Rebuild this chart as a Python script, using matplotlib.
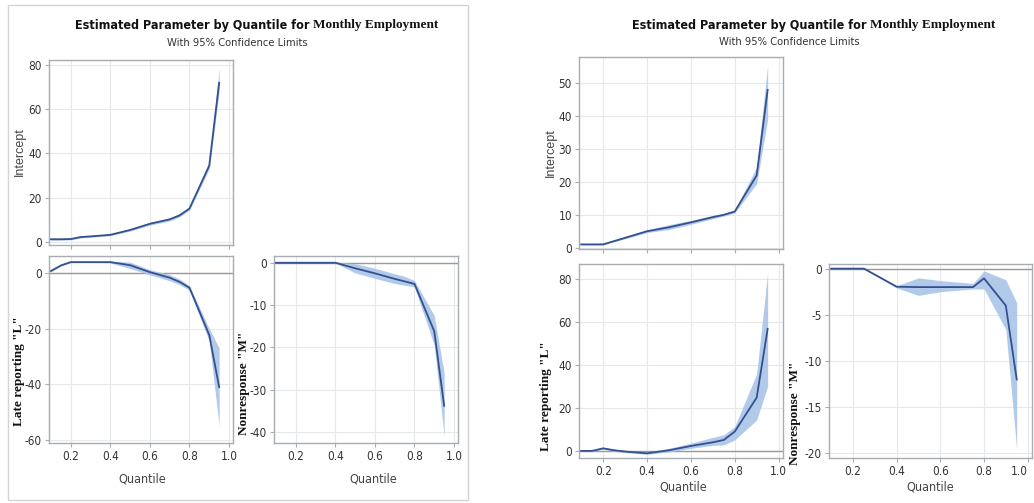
import matplotlib
matplotlib.use("Agg")
import os
import matplotlib.pyplot as plt
from matplotlib import font_manager
from matplotlib.font_manager import FontProperties
from matplotlib.patches import Rectangle

# ---------------- data ----------------
quantiles = [0.1, 0.15, 0.2, 0.25, 0.3, 0.4, 0.5, 0.6, 0.7, 0.75, 0.8, 0.9, 0.95]

# Left chart
a_int_est = [1.2, 1.2, 1.3, 2.2, 2.5, 3.2, 5.4, 8.2, 10.2, 12.0, 15.1, 34.5, 72.0]
a_int_lo  = [0.8, 0.8, 0.9, 1.8, 2.1, 2.8, 4.9, 7.6, 9.5, 11.3, 14.4, 33.0, 68.0]
a_int_hi  = [1.6, 1.6, 1.7, 2.6, 2.9, 3.6, 5.9, 8.8, 10.9, 12.8, 15.9, 36.5, 78.5]

a_late_est = [0.7, 2.7, 3.9, 3.9, 3.9, 3.9, 2.8, 0.3, -1.7, -3.2, -5.3, -22.3, -41.0]
a_late_lo  = [0.5, 2.5, 3.7, 3.7, 3.7, 3.6, 1.6, -0.7, -2.8, -4.2, -6.2, -24.5, -55.0]
a_late_hi  = [0.9, 2.9, 4.1, 4.1, 4.1, 4.2, 3.9, 1.2, -0.6, -2.2, -4.6, -20.0, -27.0]

a_non_est = [0.0, 0.0, 0.0, 0.0, 0.0, 0.0, -1.3, -2.5, -3.8, -4.4, -5.0, -16.2, -33.8]
a_non_lo  = [0.0, 0.0, 0.0, 0.0, 0.0, -0.05, -2.4, -3.7, -4.9, -5.3, -5.7, -19.5, -41.0]
a_non_hi  = [0.0, 0.0, 0.0, 0.0, 0.0, 0.05, -0.2, -1.3, -2.6, -3.2, -4.2, -12.5, -26.0]

# Right chart
b_int_est = [1.0, 1.0, 1.0, 2.0, 3.0, 5.0, 6.2, 7.7, 9.3, 10.0, 11.0, 22.0, 48.0]
b_int_lo  = [0.8, 0.8, 0.8, 1.8, 2.7, 4.6, 5.5, 7.1, 8.8, 9.6, 10.6, 19.5, 39.0]
b_int_hi  = [1.2, 1.2, 1.2, 2.2, 3.3, 5.4, 7.0, 8.3, 9.8, 10.4, 11.4, 24.5, 55.5]

b_late_est = [0.0, 0.0, 1.2, 0.3, -0.3, -1.1, 0.3, 2.3, 4.0, 5.1, 9.0, 24.8, 56.8]
b_late_lo  = [-0.3, -0.3, 0.8, -0.2, -0.8, -1.6, -0.5, 1.2, 2.6, 2.8, 5.1, 14.4, 30.0]
b_late_hi  = [0.3, 0.3, 1.6, 0.8, 0.3, -0.6, 1.2, 3.6, 6.3, 7.5, 11.3, 35.9, 83.0]

b_non_est = [0.0, 0.0, 0.0, 0.0, -0.65, -1.96, -2.0, -2.0, -2.0, -2.0, -1.05, -4.0, -12.0]
b_non_lo  = [0.0, 0.0, 0.0, 0.0, -0.7, -2.1, -2.9, -2.5, -2.3, -2.2, -2.2, -6.6, -19.6]
b_non_hi  = [0.0, 0.0, 0.0, 0.0, -0.6, -1.85, -1.0, -1.3, -1.5, -1.6, -0.25, -1.2, -3.7]

x_ticks = [0.2, 0.4, 0.6, 0.8, 1.0]
x_tick_labels = ["0.2", "0.4", "0.6", "0.8", "1.0"]

title_sans = "Estimated Parameter by Quantile for"
title_serif = "Monthly Employment"
subtitle = "With 95% Confidence Limits"
label_int = "Intercept"
label_late = 'Late reporting "L"'
label_non = 'Nonresponse "M"'
label_x = "Quantile"

# ---------------- fonts ----------------
files = [f.fname for f in font_manager.fontManager.ttflist]
files += font_manager.findSystemFonts()


def find_file(names):
    for n in names:
        for f in files:
            if os.path.basename(f).lower() == n.lower():
                return f
    return None


narrow_reg = find_file(["LiberationSansNarrow-Regular.ttf", "DejaVuSansCondensed.ttf"])
narrow_bold = find_file(["LiberationSansNarrow-Bold.ttf", "DejaVuSansCondensed-Bold.ttf"])


def fp(size, bold=False, narrow=True):
    path = narrow_bold if bold else narrow_reg
    if narrow and path:
        return FontProperties(fname=path, size=size)
    return FontProperties(family="Liberation Sans", size=size,
                          weight="bold" if bold else "normal")


SERIF = "Liberation Serif"

LINE = "#34508f"
BAND = "#aac5e8"
FRAME = "#a8adb2"
GRID = "#e6e8ea"
REF = "#9a9a9a"
TXT = "#333333"

W, H = 1034, 503
fig = plt.figure(figsize=(W / 100, H / 100), dpi=100)
fig.patch.set_facecolor("white")


def ax_at(x0, y0, x1, y1):
    return fig.add_axes([x0 / W, 1 - y1 / H, (x1 - x0) / W, (y1 - y0) / H])


def fx(x):
    return x / W


def fy(y):
    return 1 - y / H


def panel(ax, est, lo, hi, yticks, ylim, ref=True, xlabels=True):
    ax.fill_between(quantiles, lo, hi, color=BAND, lw=0, alpha=0.9, zorder=2)
    ax.plot(quantiles, est, color=LINE, lw=1.3, zorder=3)
    if ref:
        ax.axhline(0, color=REF, lw=1.0, zorder=1.5)
    ax.set_xlim(0.09, 1.02)
    ax.set_ylim(*ylim)
    ax.set_xticks(x_ticks)
    ax.set_yticks(yticks)
    ax.set_yticklabels([str(v) for v in yticks])
    if xlabels:
        ax.set_xticklabels(x_tick_labels)
    else:
        ax.set_xticklabels([])
        ax.tick_params(axis="x", length=0)
    ax.grid(True, color=GRID, lw=0.8, zorder=0)
    ax.set_axisbelow(True)
    for s in ax.spines.values():
        s.set_color(FRAME)
        s.set_linewidth(1.0)
    ax.tick_params(colors=FRAME, labelcolor=TXT, length=3, width=0.8, pad=2)
    for t in ax.get_xticklabels() + ax.get_yticklabels():
        t.set_fontproperties(fp(8.5))


def ylab(x, y, text, serif):
    if serif:
        fig.text(fx(x), fy(y), text, rotation=90, ha="center", va="center",
                 fontsize=9.5, fontweight="bold", family=SERIF, color="#111111")
    else:
        fig.text(fx(x), fy(y), text, rotation=90, ha="center", va="center",
                 fontproperties=FontProperties(family="Liberation Sans", size=9),
                 color="#444444")


def xlab(x, y, text):
    fig.text(fx(x), fy(y), text, ha="center", va="center",
             fontproperties=fp(9), color="#444444")


def title(x_split, y, ysub, xsub):
    fig.text(fx(x_split), fy(y), title_sans + " ", ha="right", va="center",
             fontproperties=fp(9, bold=True), color="#111111")
    fig.text(fx(x_split), fy(y), title_serif, ha="left", va="center",
             fontsize=9.5, fontweight="bold", family=SERIF, color="#111111")
    fig.text(fx(xsub), fy(ysub), subtitle, ha="center", va="center",
             fontproperties=fp(8), color="#333333")


# ---------------- left chart ----------------
fig.patches.append(Rectangle((fx(8), fy(500)), (468 - 8) / W, (500 - 5) / H,
                             transform=fig.transFigure, fill=False,
                             edgecolor="#d4d4d4", lw=1.0))
title(313, 25, 43, 237)

ax = ax_at(49, 60, 233, 245)
panel(ax, a_int_est, a_int_lo, a_int_hi, [0, 20, 40, 60, 80], (-1.4, 82.3),
      ref=False, xlabels=False)
ylab(20, 152, label_int, False)

ax = ax_at(49, 256, 233, 443)
panel(ax, a_late_est, a_late_lo, a_late_hi, [0, -20, -40, -60], (-61.1, 6.1))
ylab(19, 371, label_late, True)
xlab(142, 479, label_x)

ax = ax_at(274, 256, 458, 443)
panel(ax, a_non_est, a_non_lo, a_non_hi, [0, -10, -20, -30, -40], (-42.6, 1.6))
ylab(244, 383, label_non, True)
xlab(373, 479, label_x)

# ---------------- right chart ----------------
title(870, 25, 42, 789)

ax = ax_at(579, 57, 783, 249)
panel(ax, b_int_est, b_int_lo, b_int_hi, [0, 10, 20, 30, 40, 50], (-0.4, 58.0),
      ref=False, xlabels=False)
ylab(551, 153, label_int, False)

ax = ax_at(579, 264, 783, 458)
panel(ax, b_late_est, b_late_lo, b_late_hi, [0, 20, 40, 60, 80], (-3.3, 87.0))
ylab(546, 396, label_late, True)
xlab(683, 487, label_x)

ax = ax_at(829, 264, 1032, 458)
panel(ax, b_non_est, b_non_lo, b_non_hi, [0, -5, -10, -15, -20], (-20.5, 0.5))
ax.get_xticklabels()[-1].set_horizontalalignment("right")
ylab(795, 413, label_non, True)
xlab(930, 487, label_x)

fig.savefig("out.png", dpi=100, facecolor="white")
